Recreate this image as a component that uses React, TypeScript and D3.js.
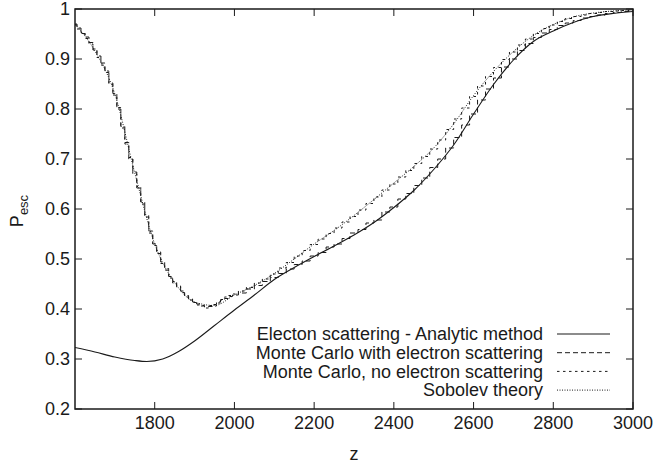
import React from "react";
import * as d3 from "d3";

// ---- data ----
const xTicks = [1800, 2000, 2200, 2400, 2600, 2800, 3000];
const yTicks = [0.2, 0.3, 0.4, 0.5, 0.6, 0.7, 0.8, 0.9, 1];

const analyticZ = [1600, 1650, 1700, 1750, 1780, 1820, 1860, 1900, 1950, 2000, 2050, 2100, 2150, 2200, 2250, 2300, 2350, 2400, 2450, 2500, 2550, 2600, 2650, 2700, 2750, 2800, 2850, 2900, 2950, 3000];
const analyticP = [0.323, 0.314, 0.304, 0.297, 0.295, 0.300, 0.315, 0.336, 0.367, 0.398, 0.428, 0.459, 0.483, 0.505, 0.526, 0.548, 0.573, 0.603, 0.637, 0.679, 0.728, 0.790, 0.849, 0.898, 0.935, 0.956, 0.973, 0.985, 0.991, 0.995];

// Monte Carlo histogram bins: 10-wide below 2000, 20-wide above
const mcZ = [
  1600, 1610, 1620, 1630, 1640, 1650, 1660, 1670, 1680, 1690, 1700, 1710, 1720, 1730, 1740, 1750, 1760, 1770, 1780, 1790,
  1800, 1810, 1820, 1830, 1840, 1850, 1860, 1870, 1880, 1890, 1900, 1910, 1920, 1930, 1940, 1950, 1960, 1970, 1980, 1990,
  2000, 2020, 2040, 2060, 2080, 2100, 2120, 2140, 2160, 2180, 2200, 2220, 2240, 2260, 2280, 2300, 2320, 2340, 2360, 2380,
  2400, 2420, 2440, 2460, 2480, 2500, 2520, 2540, 2560, 2580, 2600, 2620, 2640, 2660, 2680, 2700, 2720, 2740, 2760, 2780,
  2800, 2820, 2840, 2860, 2880, 2900, 2920, 2940, 2960, 2980, 3000,
];
const mcWithP = [
  0.970, 0.962, 0.951, 0.944, 0.933, 0.918, 0.906, 0.892, 0.873, 0.852, 0.831, 0.800, 0.765, 0.733, 0.700, 0.674, 0.642, 0.614, 0.584, 0.556,
  0.530, 0.511, 0.494, 0.478, 0.465, 0.455, 0.444, 0.433, 0.427, 0.420, 0.414, 0.410, 0.406, 0.404, 0.405, 0.409, 0.414, 0.418, 0.421, 0.425,
  0.428, 0.432, 0.440, 0.447, 0.455, 0.463, 0.471, 0.480, 0.489, 0.496, 0.506, 0.513, 0.524, 0.530, 0.541, 0.552, 0.559, 0.572, 0.578, 0.594,
  0.604, 0.620, 0.631, 0.647, 0.662, 0.683, 0.700, 0.722, 0.743, 0.768, 0.790, 0.818, 0.840, 0.862, 0.884, 0.900, 0.917, 0.931, 0.943, 0.952,
  0.959, 0.967, 0.972, 0.977, 0.982, 0.985, 0.988, 0.991, 0.993, 0.995, 0.996,
];
const mcNoP = [
  0.968, 0.960, 0.953, 0.941, 0.930, 0.920, 0.903, 0.888, 0.876, 0.849, 0.828, 0.803, 0.762, 0.730, 0.703, 0.670, 0.645, 0.610, 0.587, 0.552,
  0.527, 0.514, 0.491, 0.481, 0.462, 0.452, 0.446, 0.436, 0.424, 0.418, 0.413, 0.408, 0.407, 0.402, 0.407, 0.406, 0.412, 0.419, 0.424, 0.427,
  0.430, 0.436, 0.443, 0.452, 0.460, 0.470, 0.482, 0.493, 0.506, 0.517, 0.529, 0.540, 0.551, 0.562, 0.574, 0.585, 0.598, 0.611, 0.624, 0.638,
  0.650, 0.664, 0.677, 0.691, 0.705, 0.720, 0.738, 0.759, 0.780, 0.802, 0.825, 0.846, 0.865, 0.883, 0.899, 0.914, 0.928, 0.940, 0.951, 0.961,
  0.968, 0.975, 0.981, 0.985, 0.988, 0.991, 0.993, 0.995, 0.996, 0.997, 0.998,
];

const sobolevZ = [1600, 1650, 1700, 1750, 1800, 1850, 1900, 1950, 2000, 2050, 2100, 2150, 2200, 2250, 2300, 2350, 2400, 2450, 2500, 2550, 2600, 2650, 2700, 2750, 2800, 2850, 2900, 2950, 3000];
const sobolevP = [0.970, 0.916, 0.830, 0.672, 0.530, 0.453, 0.414, 0.407, 0.428, 0.447, 0.471, 0.500, 0.530, 0.557, 0.587, 0.619, 0.652, 0.685, 0.722, 0.770, 0.827, 0.875, 0.915, 0.947, 0.969, 0.984, 0.992, 0.996, 0.998];

const legendLabels = [
  "Electon scattering - Analytic method",
  "Monte Carlo with electron scattering",
  "Monte Carlo, no electron scattering",
  "Sobolev theory",
];

const W = 658, H = 466;
const left = 75, right = 633, top = 9, bottom = 409;
const font = "'Liberation Sans', Arial, Helvetica, sans-serif";
const ink = "#1a1a1a";

export default function App() {
  const x = d3.scaleLinear().domain([1600, 3000]).range([left, right]);
  const y = d3.scaleLinear().domain([0.2, 1]).range([bottom, top]);

  const smooth = d3.line<[number, number]>().x(d => x(d[0])).y(d => y(d[1])).curve(d3.curveMonotoneX);
  const step = d3.line<[number, number]>().x(d => x(d[0])).y(d => y(d[1])).curve(d3.curveStep);

  const zip = (a: number[], b: number[]) => a.map((v, i) => [v, b[i]] as [number, number]);

  const series = [
    { d: smooth(zip(analyticZ, analyticP)), dash: undefined as string | undefined, w: 1.1 },
    { d: step(zip(mcZ, mcWithP)), dash: "5,3", w: 1 },
    { d: step(zip(mcZ, mcNoP)), dash: "2.5,3.5", w: 1 },
    { d: smooth(zip(sobolevZ, sobolevP)), dash: "1,1.5", w: 1 },
  ];

  const tickLen = 7;
  const legY0 = 334, legDy = 18.7;

  return (
    <svg width={W} height={H} style={{ position: "absolute", left: 0, top: 0, background: "#fff" }}>
      <rect x={0} y={0} width={W} height={H} fill="#fff" />
      <defs>
        <clipPath id="plot">
          <rect x={left} y={top} width={right - left} height={bottom - top} />
        </clipPath>
      </defs>
      {xTicks.map(t => (
        <g key={"x" + t}>
          <line x1={x(t)} x2={x(t)} y1={bottom} y2={bottom - tickLen} stroke={ink} strokeWidth={1} />
          <line x1={x(t)} x2={x(t)} y1={top} y2={top + tickLen} stroke={ink} strokeWidth={1} />
          <text x={x(t)} y={429} textAnchor="middle" fontFamily={font} fontSize={18} fill={ink}>{t}</text>
        </g>
      ))}
      {yTicks.map(t => (
        <g key={"y" + t}>
          <line x1={left} x2={left + tickLen} y1={y(t)} y2={y(t)} stroke={ink} strokeWidth={1} />
          <line x1={right} x2={right - tickLen} y1={y(t)} y2={y(t)} stroke={ink} strokeWidth={1} />
          <text x={70} y={y(t)} dy="0.35em" textAnchor="end" fontFamily={font} fontSize={18} fill={ink}>{t}</text>
        </g>
      ))}
      <g clipPath="url(#plot)">
        {series.map((s, i) => (
          <path key={i} d={s.d || ""} fill="none" stroke={ink} strokeWidth={s.w} strokeDasharray={s.dash} />
        ))}
      </g>
      <rect x={left} y={top} width={right - left} height={bottom - top} fill="none" stroke={ink} strokeWidth={1.5} />
      {legendLabels.map((lab, i) => {
        const ly = legY0 + i * legDy;
        return (
          <g key={lab}>
            <text x={543} y={ly} dy="0.35em" textAnchor="end" fontFamily={font} fontSize={18} fill={ink}>{lab}</text>
            <line x1={557} x2={610} y1={ly} y2={ly} stroke={ink} strokeWidth={series[i].w} strokeDasharray={series[i].dash} />
          </g>
        );
      })}
      <text x={(left + right) / 2} y={460} textAnchor="middle" fontFamily={font} fontSize={18} fill={ink}>z</text>
      <text transform={`translate(23,211) rotate(-90)`} textAnchor="middle" fontFamily={font} fontSize={18} fill={ink}>
        P<tspan fontSize={13} dy={5}>esc</tspan>
      </text>
    </svg>
  );
}
